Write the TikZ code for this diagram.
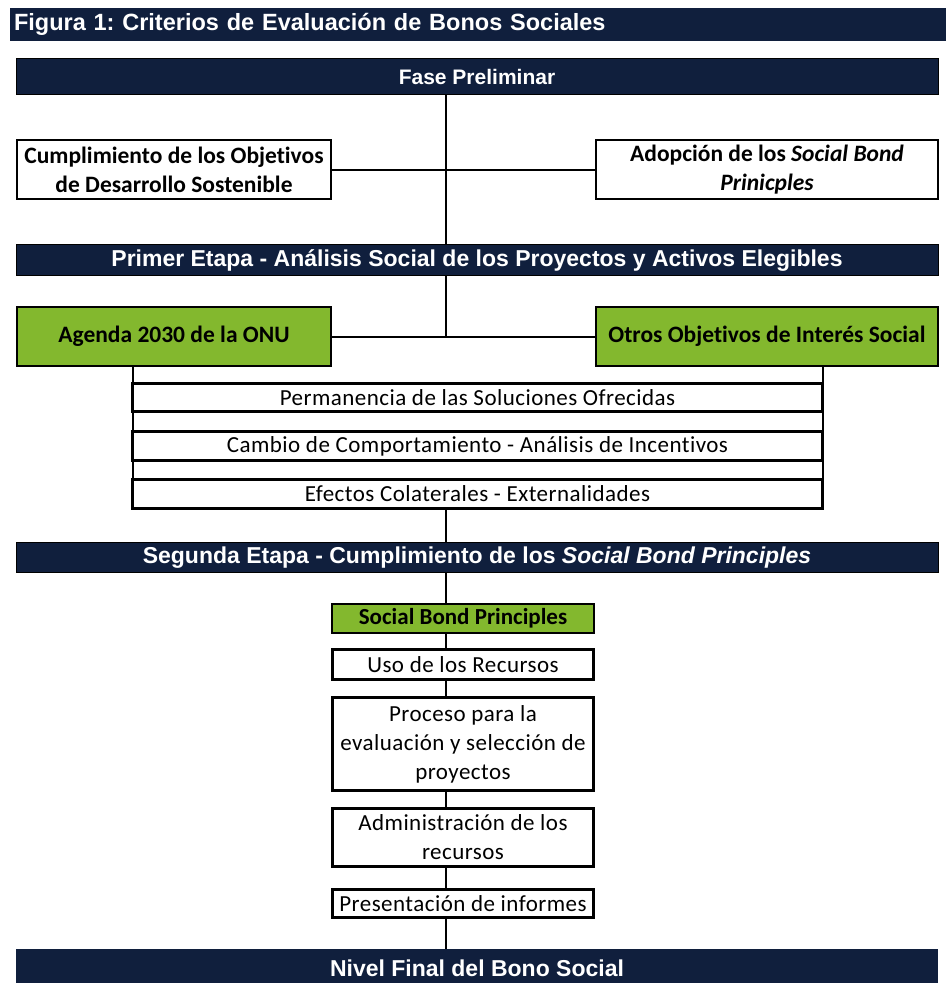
\documentclass[tikz,border=0pt]{standalone}
\usepackage{fontspec}
\setmainfont{Liberation Sans}
\newfontfamily\calibri[Ligatures=NoCommon]{Carlito}
\newfontfamily\calibrispaced[Ligatures=NoCommon, LetterSpace=2]{Carlito}
\frenchspacing

\tikzstyle{base}=[rectangle,
                    draw=black,
                    inner sep=0pt,
                    outer sep=0pt,
                    align=center,
                    text centered]
\definecolor{BarColor}{RGB}{16,31,61}
\definecolor{GoalColor}{RGB}{131,184,46}
\tikzstyle{bar}=[base, fill={BarColor}, text=white, line width=1pt, minimum width=922pt,
                  font=\fontsize{23}{28}\selectfont\bfseries]
\tikzstyle{criterion}=[base, fill=white, line width=2pt, minimum width=314pt, minimum height=59pt,
                  font=\calibri\fontsize{23.5}{29}\selectfont\bfseries]
\tikzstyle{goal}=[criterion, fill={GoalColor}]
\tikzstyle{aspect}=[base, fill=white, line width=3pt,
                  font=\calibrispaced\fontsize{23}{29}\selectfont]
\tikzstyle{link}=[line width=2pt]

\begin{document}
\begin{tikzpicture}[x=1pt, y=-1pt]
      \useasboundingbox (0,0) rectangle (946,983);

      \node at ( 478.0,  24.5) (titulo)   [base, draw=none, fill={BarColor}, text=white, minimum height=33pt,
                                           inner xsep=4pt, text width=928pt, align=left,
                                           font=\fontsize{23.5}{28}\selectfont\bfseries]
                                          {Figura 1: Criterios de Evaluación de Bonos Sociales};
      \node at ( 477.0,  76.5) (fase)     [bar, minimum height=36pt, font=\fontsize{21}{25}\selectfont\bfseries]
                                          {Fase Preliminar};
      \node at ( 174.0, 169.5) (cumpl)    [criterion]                  {Cumplimiento de los Objetivos\\de Desarrollo Sostenible};
      \node at ( 767.0, 169.5) (adop)     [criterion, minimum width=342pt]
                                          {Adopción de los \textit{Social Bond}\\\textit{Prinicples}};
      \node at ( 477.0, 260.0) (primer)   [bar, minimum height=31pt]  {Primer Etapa - Análisis Social de los Proyectos y Activos Elegibles};
      \node at ( 174.0, 336.5) (agenda)   [goal]                       {Agenda 2030 de la ONU};
      \node at ( 767.0, 336.5) (otros)    [goal, minimum width=342pt] {Otros Objetivos de Interés Social};
      \node at ( 477.5, 397.5) (perm)     [aspect, minimum width=690pt, minimum height=28pt] {Permanencia de las Soluciones Ofrecidas};
      \node at ( 477.5, 446.0) (cambio)   [aspect, minimum width=690pt, minimum height=29pt] {Cambio de Comportamiento - Análisis de Incentivos};
      \node at ( 477.5, 494.0) (efectos)  [aspect, minimum width=690pt, minimum height=29pt] {Efectos Colaterales - Externalidades};
      \node at ( 477.0, 557.5) (segunda)  [bar, minimum height=30pt]
                                          {Segunda Etapa - Cumplimiento de los \textit{Social Bond Principles}};
      \node at ( 463.0, 618.5) (sbp)      [goal, minimum width=262pt, minimum height=29pt,
                                           font=\calibri\fontsize{23}{29}\selectfont\bfseries] {Social Bond Principles};
      \node at ( 463.0, 664.5) (uso)      [aspect, minimum width=261pt, minimum height=30pt] {Uso de los Recursos};
      \node at ( 463.0, 744.0) (proceso)  [aspect, minimum width=261pt, minimum height=93pt]
                                          {Proceso para la\\evaluación y selección de\\proyectos};
      \node at ( 463.0, 837.5) (admin)    [aspect, minimum width=261pt, minimum height=58pt] {Administración de los\\recursos};
      \node at ( 463.0, 903.5) (informes) [aspect, minimum width=261pt, minimum height=28pt] {Presentación de informes};
      \node at ( 477.0, 968.0) (nivel)    [bar, draw=none, minimum height=38pt] {Nivel Final del Bono Social};

      \coordinate (spine) at (446, 0);

      \draw[link] (fase.south -| spine)    -- (primer.north -| spine);
      \draw[link] (cumpl.east)             -- (adop.west);
      \draw[link] (primer.south -| spine)  -- (agenda.east -| spine);
      \draw[link] (agenda.east)            -- (otros.west);
      \draw[link] (agenda.south -| perm.west) -- (efectos.north west);
      \draw[link] (otros.south -| perm.east)  -- (efectos.north east);
      \draw[link] (efectos.south -| spine) -- (segunda.north -| spine);
      \draw[link] (segunda.south -| spine) -- (sbp.north -| spine);
      \draw[link] (sbp.south -| spine)     -- (uso.north -| spine);
      \draw[link] (uso.south -| spine)     -- (proceso.north -| spine);
      \draw[link] (proceso.south -| spine) -- (admin.north -| spine);
      \draw[link] (admin.south -| spine)   -- (informes.north -| spine);
      \draw[link] (informes.south -| spine) -- (nivel.north -| spine);
\end{tikzpicture}
\end{document}
